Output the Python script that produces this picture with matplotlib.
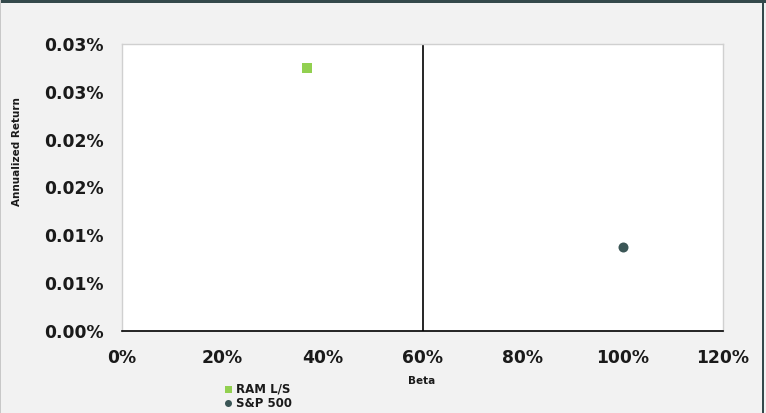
import matplotlib.pyplot as plt
from matplotlib.patches import Rectangle
from matplotlib.ticker import FuncFormatter, MultipleLocator

# data
series = ['RAM L/S', 'S&P 500']
beta = [0.37, 1.00]
annual_return = [0.000275, 0.000088]
markers = ['s', 'o']
colors = ['#92d050', '#3b5656']
divider_beta = 0.6

BG = '#f2f2f2'
DARK = '#34494b'

fig = plt.figure(figsize=(7.66, 4.13), dpi=100, facecolor=BG)
ax = fig.add_axes([122 / 766, 1 - 331 / 413, (723 - 122) / 766, (331 - 44) / 413])
ax.set_facecolor('white')

for name, x, y, m, c in zip(series, beta, annual_return, markers, colors):
    ax.plot([x], [y], linestyle='none', marker=m, color=c, markersize=7.2,
            markeredgewidth=0, label=name)

ax.axvline(divider_beta, color='black', linewidth=1.2)

ax.set_xlim(0, 1.2)
ax.set_ylim(0, 0.0003)
ax.xaxis.set_major_locator(MultipleLocator(0.2))
ax.yaxis.set_major_locator(MultipleLocator(0.00005))
ax.xaxis.set_major_formatter(FuncFormatter(lambda v, p: f"{v * 100:.0f}%"))
ax.yaxis.set_major_formatter(FuncFormatter(lambda v, p: f"{round(v * 100 + 1e-9, 2):.2f}%"))
ax.tick_params(length=0, labelsize=12.3, colors='#1a1a1a')
ax.tick_params(axis='x', pad=13)
ax.tick_params(axis='y', pad=13)
for lab in ax.get_xticklabels() + ax.get_yticklabels():
    lab.set_fontweight('bold')

for side in ['left', 'top', 'right']:
    ax.spines[side].set_color('#d0d0d0')
    ax.spines[side].set_linewidth(1)
ax.spines['bottom'].set_color('black')
ax.spines['bottom'].set_linewidth(1.2)

fig.text(422 / 766, 1 - 381 / 413, 'Beta', ha='center', va='center',
         fontsize=7.5, fontweight='bold', color='#1a1a1a')
fig.text(17 / 766, 1 - 152 / 413, 'Annualized Return', ha='center', va='center',
         rotation=90, fontsize=7.5, fontweight='bold', color='#1a1a1a')

leg = fig.legend(loc='upper left', bbox_to_anchor=(219 / 766, 1 - 377 / 413),
                 frameon=False, fontsize=8.5, handlelength=0.6, handletextpad=0.3,
                 labelspacing=0.1, borderpad=0, markerscale=0.7)
for t in leg.get_texts():
    t.set_fontweight('bold')
    t.set_color('#1a1a1a')

# outer frame: dark band on top, dark line on the right
fig.add_artist(Rectangle((0, 1 - 3 / 413), 1, 3 / 413, transform=fig.transFigure,
                         facecolor=DARK, edgecolor='none'))
fig.add_artist(Rectangle((762 / 766, 0), 2 / 766, 1, transform=fig.transFigure,
                         facecolor=DARK, edgecolor='none'))
fig.add_artist(Rectangle((0, 0), 1 / 766, 1, transform=fig.transFigure,
                         facecolor='#c8c8c8', edgecolor='none'))

fig.savefig('out.png', dpi=100, facecolor=BG)
